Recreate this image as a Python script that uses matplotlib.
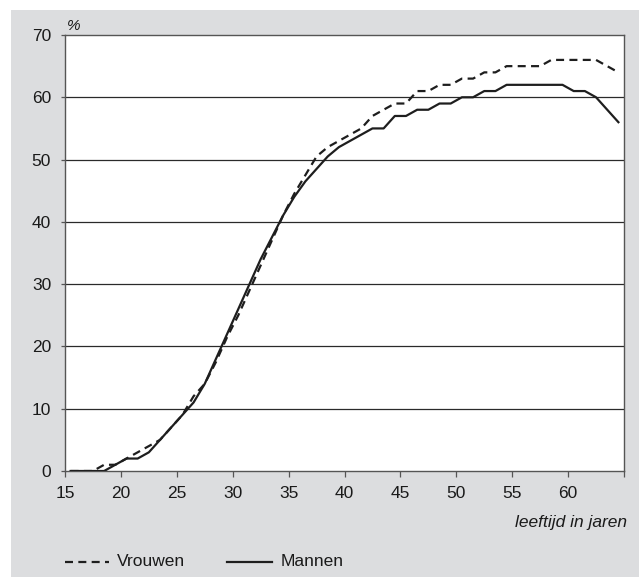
import matplotlib
matplotlib.use("Agg")
import matplotlib.pyplot as plt
from matplotlib.patches import Rectangle
from matplotlib.lines import Line2D

# ---- data ----
ages = list(range(15, 65))  # age in completed years; plotted at mid-year
mannen = [0, 0, 0, 0, 1, 2, 2, 3, 5, 7, 9, 11, 14, 18,
          22, 26, 30, 34, 37.5, 41, 44, 46.5, 48.5, 50.5,
          52, 53, 54, 55, 55, 57, 57, 58, 58, 59,
          59, 60, 60, 61, 61, 62, 62, 62, 62, 62,
          62, 61, 61, 60, 58, 56]
vrouwen = [0, 0, 0, 1, 1, 2, 3, 4, 5, 7, 9, 12, 14, 17.5,
           21.5, 25, 29, 33, 37, 41, 44.5, 47.5, 50.5, 52,
           53, 54, 55, 57, 58, 59, 59, 61, 61, 62,
           62, 63, 63, 64, 64, 65, 65, 65, 65, 66,
           66, 66, 66, 66, 65, 64]
xticks = [15, 20, 25, 30, 35, 40, 45, 50, 55, 60]
yticks = [0, 10, 20, 30, 40, 50, 60, 70]
series_labels = ["Vrouwen", "Mannen"]

W, H = 639, 582
fig = plt.figure(figsize=(W / 100, H / 100), dpi=100, facecolor="white")
plt.rcParams["font.family"] = ["Liberation Sans", "DejaVu Sans"]

bg = "#dcdddf"
fig.patches.append(Rectangle((11 / W, 1 - 577 / H), 1 - 11 / W, (577 - 10) / H,
                             transform=fig.transFigure, facecolor=bg,
                             edgecolor="none", zorder=-10))

ax = fig.add_axes([65 / W, 1 - 471 / H, (624 - 65) / W, (471 - 35) / H])
ax.set_zorder(1)
ax.set_facecolor("white")

xs = [a + 0.5 for a in ages]
ink = "#1e1e1e"
ax.plot(xs, vrouwen, color=ink, lw=1.6, dashes=[3.6, 2.4], zorder=3)
ax.plot(xs, mannen, color=ink, lw=1.6, zorder=4)

ax.set_xlim(15, 65)
ax.set_ylim(0, 70)
ax.set_xticks(xticks + [65])
ax.set_xticklabels([str(t) for t in xticks] + [""])
ax.set_yticks(yticks)
ax.set_yticklabels([str(t) for t in yticks])
for y in yticks[1:-1]:
    ax.axhline(y, color="#2a2a2a", lw=0.9, zorder=1)

for s in ax.spines.values():
    s.set_color("#555555")
    s.set_linewidth(1.0)

ax.tick_params(axis="x", direction="out", length=4, width=0.9, color="#555555",
               labelsize=12.5, pad=7, labelcolor="#1a1a1a")
ax.tick_params(axis="y", direction="out", length=3, width=0.9, color="#555555",
               labelsize=12.5, pad=7, labelcolor="#1a1a1a")

fig.text(67 / W, 1 - 26 / H, "%", fontsize=11, style="italic", color="#1a1a1a",
         ha="left", va="center")
fig.text(627 / W, 1 - 523 / H, "leeftijd in jaren", fontsize=12.5, style="italic",
         color="#1a1a1a", ha="right", va="center")

# legend
ly = 1 - 562 / H
fig.add_artist(Line2D([65 / W, 109 / W], [ly, ly], color=ink, lw=1.6,
                      dashes=[3.6, 2.4], transform=fig.transFigure))
fig.text(117 / W, ly, series_labels[0], fontsize=12.5, color="#1a1a1a",
         ha="left", va="center")
fig.add_artist(Line2D([227 / W, 272 / W], [ly, ly], color=ink, lw=1.6,
                      transform=fig.transFigure))
fig.text(281 / W, ly, series_labels[1], fontsize=12.5, color="#1a1a1a",
         ha="left", va="center")

fig.savefig("out.png", dpi=100, facecolor="white")
